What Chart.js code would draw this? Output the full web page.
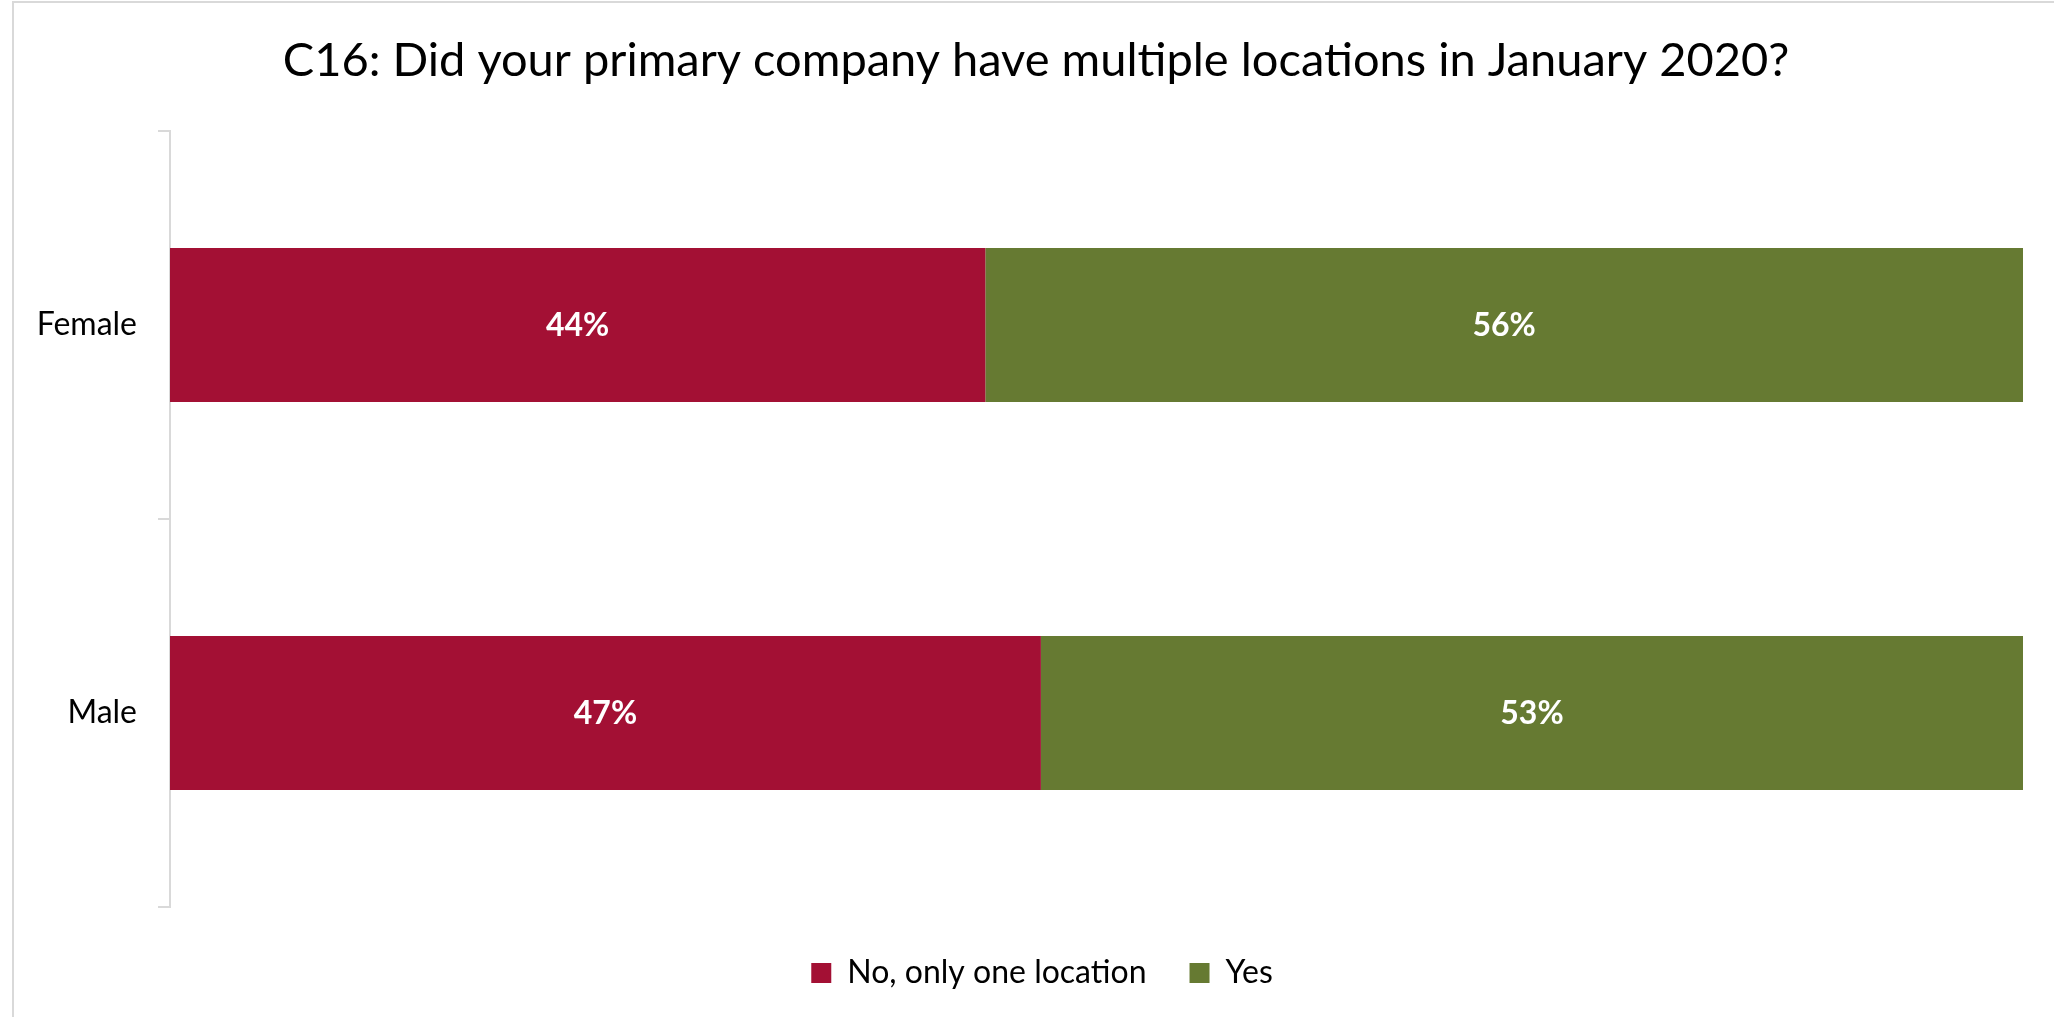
<!DOCTYPE html>
<html>
<head>
<meta charset="utf-8">
<script src="https://cdn.jsdelivr.net/npm/chart.js@4.4.1/dist/chart.umd.min.js"></script>
<style>
  html, body { margin: 0; padding: 0; background: #ffffff; overflow: hidden; }
  #wrap { position: relative; width: 2054px; height: 1017px; }
  #frame { position: absolute; left: 12px; top: 1px; width: 2100px; height: 1100px;
           border-left: 2px solid #d9d9d9; border-top: 2px solid #d9d9d9; }
  canvas { position: absolute; left: 0; top: 0; }
</style>
</head>
<body>
<div id="wrap">
  <div id="frame"></div>
  <canvas id="c" width="2054" height="1017"></canvas>
</div>
<script>
const titleText = 'C16: Did your primary company have multiple locations in January 2020?';
const categories = ['Female', 'Male'];
const seriesNames = ['No, only one location', 'Yes'];
const noOneLocation = [44, 47];
const yesMultiple = [56, 53];
const seriesColors = ['#A31034', '#667A32'];

const FONT = "Lato, 'Open Sans', sans-serif";

const dataLabels = {
  id: 'dataLabels',
  afterDatasetsDraw(chart) {
    const ctx = chart.ctx;
    ctx.save();
    ctx.font = "bold 32px " + FONT;
    ctx.fillStyle = '#ffffff';
    ctx.textAlign = 'center';
    ctx.textBaseline = 'middle';
    chart.data.datasets.forEach((ds, di) => {
      const meta = chart.getDatasetMeta(di);
      meta.data.forEach((bar, i) => {
        const cx = (bar.x + bar.base) / 2;
        ctx.fillText(ds.data[i] + '%', cx, bar.y + 1);
      });
    });
    ctx.restore();
  }
};

const legendFit = {
  id: 'legendFit',
  beforeInit(chart) {
    const lg = chart.legend;
    if (!lg) return;
    const orig = lg.fit;
    lg.fit = function () { orig.call(this); this.height = 110; };
  },
  afterLayout(chart) {
    // centre title and legend like the reference (offset to the right of the axis labels)
    if (chart.legend) chart.legend.left = 61;
    if (chart.titleBlock) chart.titleBlock.left = 49;
  }
};

new Chart(document.getElementById('c'), {
  type: 'bar',
  data: {
    labels: categories,
    datasets: [
      { label: seriesNames[0], data: noOneLocation, backgroundColor: seriesColors[0], borderWidth: 0,
        barPercentage: 0.397, categoryPercentage: 1.0 },
      { label: seriesNames[1], data: yesMultiple, backgroundColor: seriesColors[1], borderWidth: 0,
        barPercentage: 0.397, categoryPercentage: 1.0 }
    ]
  },
  options: {
    indexAxis: 'y',
    responsive: false,
    animation: false,
    devicePixelRatio: 1,
    layout: { padding: { left: 0, right: 31, top: 0, bottom: 0 } },
    scales: {
      x: { stacked: true, min: 0, max: 100, display: false },
      y: {
        stacked: true,
        afterFit(scale) { scale.width = 170; },
        grid: { display: true, drawOnChartArea: false, drawTicks: true, tickLength: 12,
                color: '#d9d9d9', lineWidth: 2, offset: true },
        border: { display: true, color: '#d9d9d9', width: 2 },
        ticks: { color: '#000000', padding: 21, font: { family: FONT, size: 32 } }
      }
    },
    plugins: {
      tooltip: { enabled: false },
      title: {
        display: true, text: titleText, color: '#000000',
        font: { family: FONT, size: 47, weight: 'normal' },
        padding: { top: 33, bottom: 41.6 }
      },
      legend: {
        display: true, position: 'bottom',
        title: { display: true, text: ' ', font: { size: 5 }, padding: { top: 1, bottom: 0 } },
        labels: { color: '#000000', font: { family: FONT, size: 32 }, boxWidth: 20, boxHeight: 20, padding: 43 }
      }
    }
  },
  plugins: [dataLabels, legendFit]
});
</script>
</body>
</html>
